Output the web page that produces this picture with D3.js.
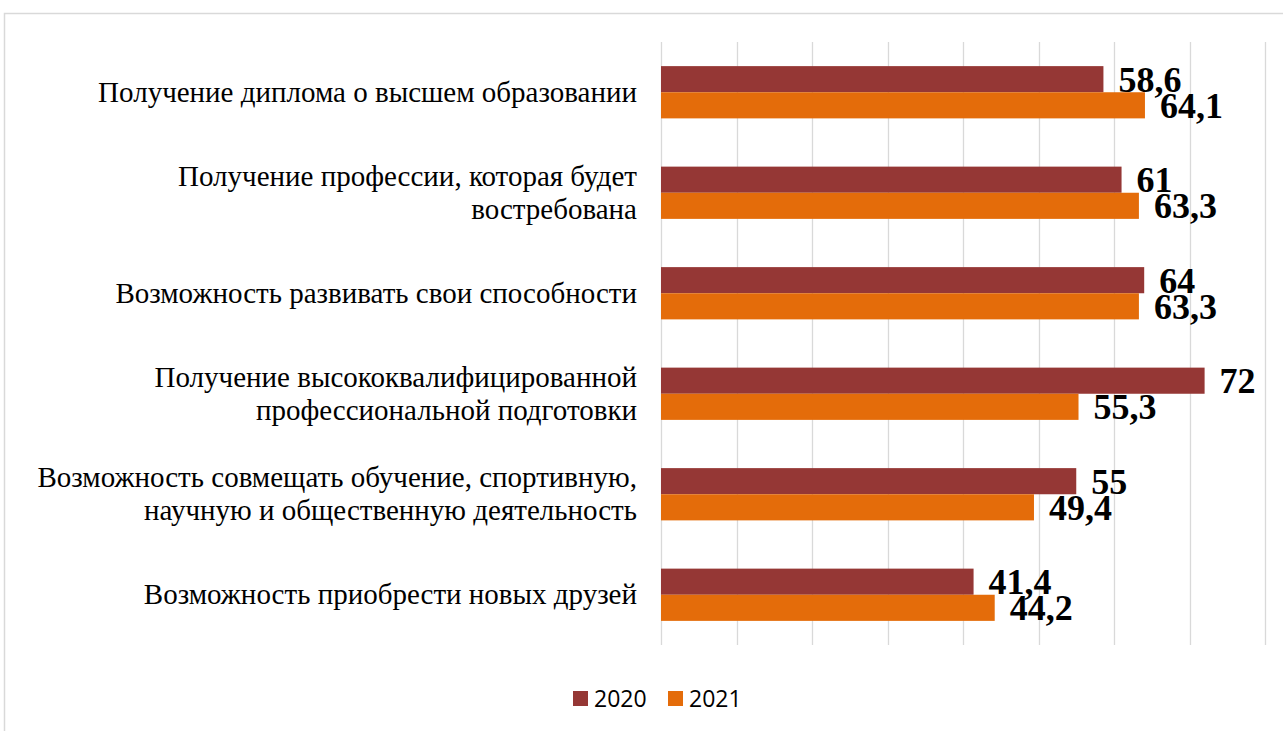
<!DOCTYPE html>
<html>
<head>
<meta charset="utf-8">
<script src="https://cdn.jsdelivr.net/npm/d3@7"></script>
<style>
  body { margin: 0; background: #fff; }
  svg { display: block; }
</style>
</head>
<body>
<svg width="1283" height="731"></svg>
<script>
// данные
const categories = [
    ['Получение диплома о высшем образовании'],
    ['Получение профессии, которая будет', 'востребована'],
    ['Возможность развивать свои способности'],
    ['Получение высококвалифицированной', 'профессиональной подготовки'],
    ['Возможность совмещать обучение, спортивную,', 'научную и общественную деятельность'],
    ['Возможность приобрести новых друзей']
];
const values2020 = [58.6, 61, 64, 72, 55, 41.4];
const values2021 = [64.1, 63.3, 63.3, 55.3, 49.4, 44.2];
const seriesNames = ['2020', '2021'];
const xTicks = [0, 10, 20, 30, 40, 50, 60, 70, 80];

const colors = ['#953735', '#E46C0A'];

const svg = d3.select('svg');

// рамка
svg.append('path')
    .attr('d', 'M4.5,731 L4.5,13.5 L1283,13.5')
    .attr('fill', 'none')
    .attr('stroke', '#d9d9d9')
    .attr('stroke-width', 1.5);

const x = d3.scaleLinear().domain([0, 80]).range([661, 1265]);
const y = d3.scaleBand().domain(d3.range(categories.length)).range([42, 645]).paddingInner(0.48).paddingOuter(0.24);
const ySeries = d3.scaleBand().domain([0, 1]).range([0, y.bandwidth()]);

// сетка
svg.append('g')
    .selectAll('line')
    .data(xTicks)
    .enter()
    .append('line')
    .attr('x1', (d) => Math.round(x(d)) + 0.5)
    .attr('x2', (d) => Math.round(x(d)) + 0.5)
    .attr('y1', 42)
    .attr('y2', 645)
    .attr('stroke', '#d9d9d9')
    .attr('stroke-width', 1.3);

// подписи категорий
const labels = svg.append('g')
    .selectAll('text')
    .data(categories)
    .enter()
    .append('text')
    .attr('text-anchor', 'end')
    .attr('font-family', '"Liberation Serif", "Times New Roman", serif')
    .attr('font-size', 29)
    .attr('fill', '#000');

labels.each(function(lines, i) {
    const cy = y(i) + y.bandwidth() / 2;
    const lh = 33;
    const top = cy - (lines.length - 1) * lh / 2;
    d3.select(this).selectAll('tspan')
        .data(lines)
        .enter()
        .append('tspan')
        .attr('x', 637)
        .attr('y', (d, j) => top + j * lh)
        .attr('dy', '0.32em')
        .text((d) => d);
});

// столбцы
const series = [values2020, values2021];
series.forEach((vals, s) => {
    const g = svg.append('g');
    g.selectAll('rect')
        .data(vals)
        .enter()
        .append('rect')
        .attr('x', x(0))
        .attr('y', (d, i) => y(i) + ySeries(s))
        .attr('width', (d) => x(d) - x(0))
        .attr('height', ySeries.bandwidth())
        .attr('fill', colors[s]);

    g.selectAll('text')
        .data(vals)
        .enter()
        .append('text')
        .attr('x', (d) => x(d) + 15)
        .attr('y', (d, i) => y(i) + ySeries(s) + ySeries.bandwidth() / 2)
        .attr('dy', '0.35em')
        .attr('font-family', '"Liberation Serif", "Times New Roman", serif')
        .attr('font-weight', 'bold')
        .attr('font-size', 36)
        .attr('fill', '#000')
        .text((d) => String(d).replace('.', ','));
});

// легенда
const legend = svg.append('g');
const legendX = [573, 668];
seriesNames.forEach((name, s) => {
    legend.append('rect')
        .attr('x', legendX[s])
        .attr('y', 691)
        .attr('width', 15)
        .attr('height', 15)
        .attr('fill', colors[s]);
    legend.append('text')
        .attr('x', legendX[s] + 21)
        .attr('y', 699)
        .attr('dy', '0.36em')
        .attr('font-family', '"Open Sans", "Liberation Sans", sans-serif')
        .attr('font-size', 23)
        .attr('fill', '#000')
        .text(name);
});
</script>
</body>
</html>
